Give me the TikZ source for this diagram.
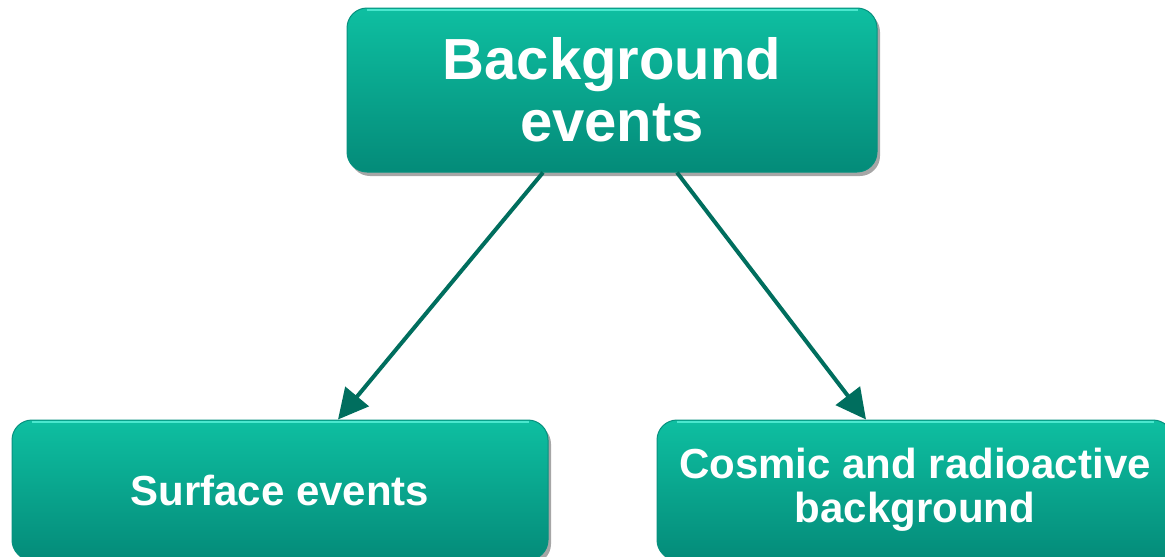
\documentclass[tikz,border=0pt]{standalone}
\usepackage{fontspec}
\setmainfont{Liberation Sans}
\usetikzlibrary{arrows.meta,shadows}
\definecolor{boxtop}{HTML}{0EBFA1}
\definecolor{boxbot}{HTML}{048B79}
\definecolor{boxedge}{HTML}{07917F}
\definecolor{hlc}{HTML}{5AF2DA}
\definecolor{arrowc}{HTML}{006E5E}
\tikzset{
  boxstyle/.style={rounded corners=20pt, top color=boxtop, bottom color=boxbot,
    draw=boxedge, line width=1pt,
    drop shadow={shadow xshift=3pt, shadow yshift=-4pt, opacity=0.35, fill=black},
    text=white, font=\bfseries, align=center, inner sep=0pt},
  bigtext/.style={font=\bfseries\fontsize{58}{62}\selectfont},
  smalltext/.style={font=\bfseries\fontsize{42}{44}\selectfont},
  hl/.style={draw=hlc, line width=2pt, opacity=0.8},
  arr/.style={draw=arrowc, line width=4pt, -{Triangle[length=30pt,width=30pt]}}
}
\begin{document}
\begin{tikzpicture}[x=1pt,y=-1pt]
\useasboundingbox (0,0) rectangle (1165,557);
\node[boxstyle, bigtext, minimum width=530pt, minimum height=164pt] (top) at (612,90) {Background\\events};
\node[boxstyle, smalltext, minimum width=536pt, minimum height=140pt] (left) at (280,490) {Surface events};
\node[boxstyle, smalltext, minimum width=516pt, minimum height=140pt] (right) at (915,490) {Cosmic and radioactive\\background};
\draw[hl] ([xshift=20pt,yshift=-2pt]top.north west) -- ([xshift=-20pt,yshift=-2pt]top.north east);
\draw[hl] ([xshift=20pt,yshift=-2pt]left.north west) -- ([xshift=-20pt,yshift=-2pt]left.north east);
\draw[hl] ([xshift=20pt,yshift=-2pt]right.north west) -- ([xshift=-20pt,yshift=-2pt]right.north east);
\draw[arr] ([xshift=-69pt]top.south) -- ([xshift=58pt]left.north);
\draw[arr] ([xshift=65pt]top.south) -- ([xshift=-49pt]right.north);
\end{tikzpicture}
\end{document}
